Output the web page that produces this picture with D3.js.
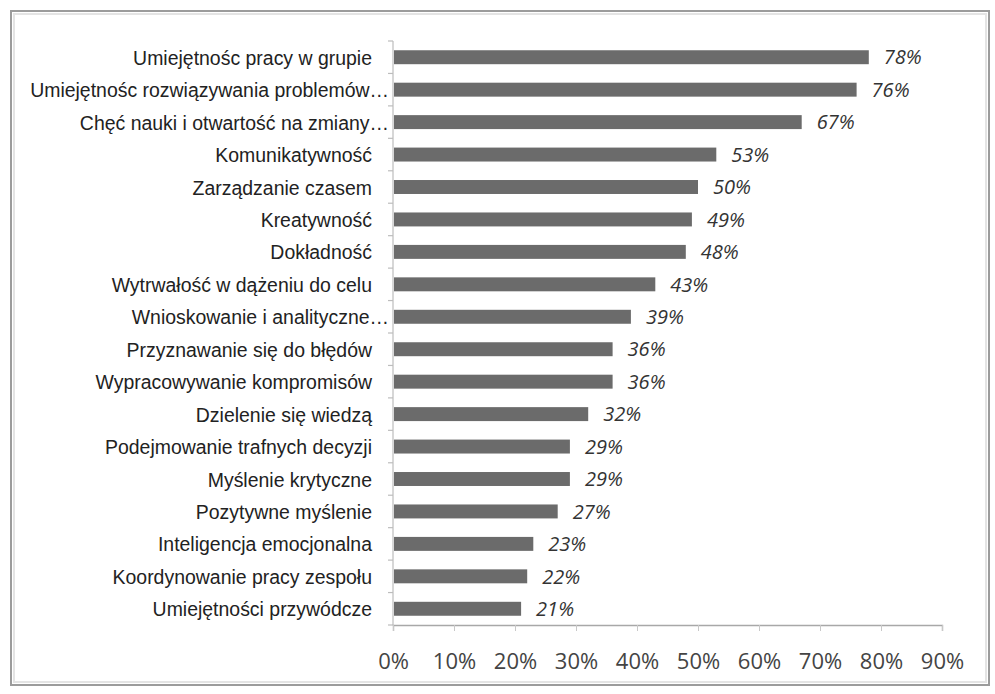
<!DOCTYPE html>
<html><head><meta charset="utf-8">
<script src="https://cdn.jsdelivr.net/npm/d3@7"></script>
<style>body{margin:0;background:#fff;}svg{display:block;}</style>
</head><body>
<script>
const categories = [
  "Umiejętnośc pracy w grupie",
  "Umiejętnośc rozwiązywania problemów…",
  "Chęć nauki i otwartość na zmiany…",
  "Komunikatywność",
  "Zarządzanie czasem",
  "Kreatywność",
  "Dokładność",
  "Wytrwałość w dążeniu do celu",
  "Wnioskowanie i analityczne…",
  "Przyznawanie się do błędów",
  "Wypracowywanie kompromisów",
  "Dzielenie się wiedzą",
  "Podejmowanie trafnych decyzji",
  "Myślenie krytyczne",
  "Pozytywne myślenie",
  "Inteligencja emocjonalna",
  "Koordynowanie pracy zespołu",
  "Umiejętności przywódcze"
];
const values = [78, 76, 67, 53, 50, 49, 48, 43, 39, 36, 36, 32, 29, 29, 27, 23, 22, 21];
const xTicks = [0, 10, 20, 30, 40, 50, 60, 70, 80, 90];

const W = 995, H = 694;
const svg = d3.select("body").append("svg").attr("width", W).attr("height", H);

// frame
svg.append("rect").attr("x", 11).attr("y", 11).attr("width", 978).attr("height", 674)
  .attr("fill", "#fff").attr("stroke", "#9c9c9c").attr("stroke-width", 2);
svg.append("rect").attr("x", 14).attr("y", 14).attr("width", 972).attr("height", 668)
  .attr("fill", "none").attr("stroke", "#e4e4e4").attr("stroke-width", 2);

const x = d3.scaleLinear().domain([0, 90]).range([393, 942]);
const y = d3.scaleBand().domain(categories).range([41, 625]).paddingInner(0.57).paddingOuter(0.285);

// y axis line + ticks at band boundaries
const yg = svg.append("g");
yg.append("line").attr("x1", x(0)).attr("x2", x(0)).attr("y1", 41).attr("y2", 625)
  .attr("stroke", "#bdbdbd").attr("stroke-width", 1.2);
const step = y.step();
yg.selectAll("line.t").data(d3.range(categories.length + 1)).join("line")
  .attr("class", "t")
  .attr("x1", x(0) - 5).attr("x2", x(0))
  .attr("y1", i => 41 + i * step).attr("y2", i => 41 + i * step)
  .attr("stroke", "#bdbdbd").attr("stroke-width", 1.2);

// x axis
const xAxis = d3.axisBottom(x).tickValues(xTicks).tickSize(6).tickFormat(d => d + "%");
const xg = svg.append("g").attr("transform", "translate(0,625)").call(xAxis);
xg.select(".domain").attr("stroke", "#a8a8a8").attr("stroke-width", 1.4);
xg.selectAll(".tick line").attr("stroke", "#c8c8c8");
xg.selectAll(".tick text").attr("dy", "0").attr("y", 44)
  .style("font-family", "'Open Sans', sans-serif").style("font-size", "22px").attr("fill", "#444");

// bars
svg.selectAll("rect.bar").data(values).join("rect")
  .attr("class", "bar")
  .attr("x", x(0) + 1)
  .attr("y", (d, i) => y(categories[i]))
  .attr("width", d => x(d) - x(0) - 1)
  .attr("height", y.bandwidth())
  .attr("fill", "#6b6b6b");

// value labels
svg.selectAll("text.val").data(values).join("text")
  .attr("class", "val")
  .attr("x", d => x(d) + 15)
  .attr("y", (d, i) => y(categories[i]) + y.bandwidth() / 2)
  .attr("dy", "0.36em")
  .style("font-family", "'Open Sans', sans-serif").style("font-style", "italic").style("font-size", "20px")
  .attr("fill", "#333")
  .text(d => d + "%");

// category labels (narrow look via horizontal scale)
const catG = svg.selectAll("g.cat").data(categories).join("g")
  .attr("class", "cat");
const catT = catG.append("text")
  .attr("text-anchor", "end")
  .attr("dy", "0.36em")
  .style("font-family", "'Liberation Sans', Arial, sans-serif")
  .style("font-size", "21px")
  .attr("fill", "#222")
  .text(d => d);
const longest = d3.max(catT.nodes(), n => n.getComputedTextLength());
const sx = 359 / longest;
catG.attr("transform", d => `translate(${d.endsWith("…") ? x(0) - 4 : x(0) - 21},${y(d) + y.bandwidth() / 2}) scale(${sx},1)`);
</script>
</body></html>
